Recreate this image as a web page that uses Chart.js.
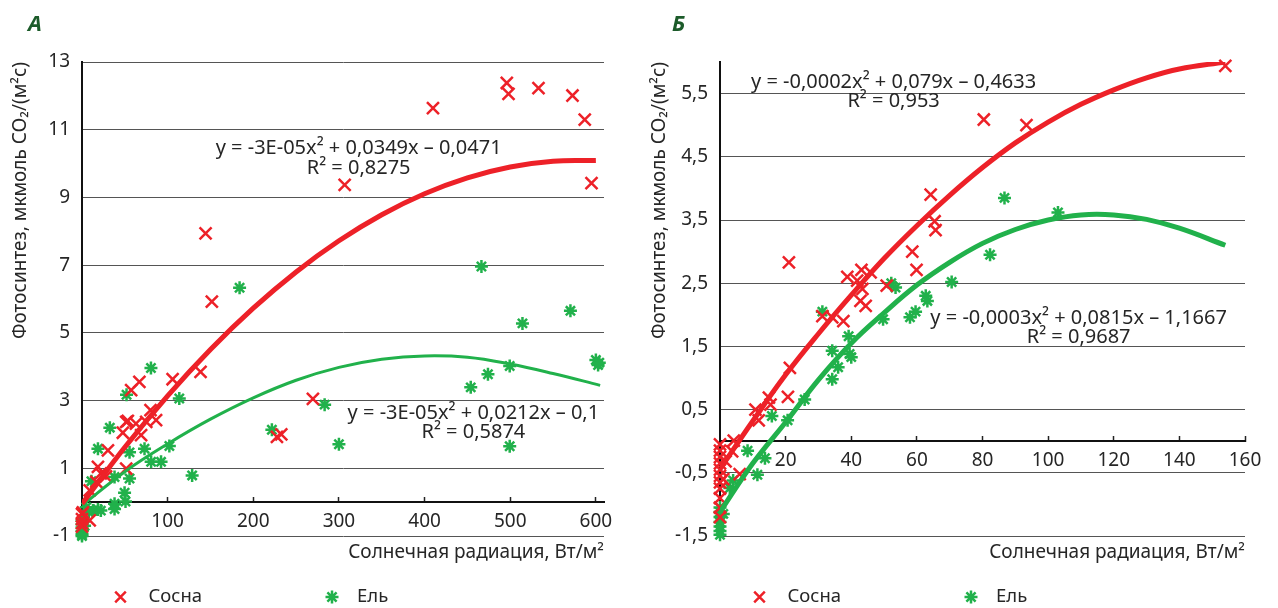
<!DOCTYPE html>
<html><head><meta charset="utf-8">
<script src="https://cdn.jsdelivr.net/npm/chart.js@4.4.1/dist/chart.umd.min.js"></script>
<style>
html,body{margin:0;padding:0;background:#fff;width:1278px;height:608px;overflow:hidden}
canvas{position:absolute;top:0}
#ca{left:0}
#cb{left:639px}
</style></head><body>
<canvas id="ca" width="639" height="608"></canvas>
<canvas id="cb" width="639" height="608"></canvas>
<script>
// ---------- data: panel A ----------
const A_xTicks = [100, 200, 300, 400, 500, 600];
const A_yTicks = [-1, 1, 3, 5, 7, 9, 11, 13];
const A_pineX = [0, 0, 0, 0, 1, 9, 9, 16.7, 18.6, 22, 28, 30.3, 47.7, 51.6, 51.6, 53.5, 57.4, 63, 67, 69, 75, 80, 86.5, 105.8, 138.4, 144.3, 151.6, 227.6, 232.7, 269.6, 306.7, 409.8, 496, 498, 533, 572.7, 587, 594.9];
const A_pineY = [-0.35, -0.5, -0.62, -0.72, -0.3, -0.54, 0.35, 0.6, 1.04, 0.85, 0.76, 1.53, 2.05, 0.99, 2.37, 2.4, 3.31, 2.32, 3.55, 1.98, 2.37, 2.72, 2.42, 3.63, 3.85, 7.94, 5.92, 1.93, 2.0, 3.05, 9.37, 11.64, 12.38, 12.06, 12.23, 12.01, 11.3, 9.42];
const A_spruceX = [0, 0, 0, 0, 0, 0, 3, 5, 8, 11, 12.8, 18.6, 18.6, 22, 32.5, 38, 38, 38, 49.7, 50.8, 52, 55.5, 55.5, 73, 80.5, 80.7, 92.3, 102, 113.6, 128.6, 184, 221.7, 283.3, 300, 453.9, 466.4, 474, 499.4, 499.4, 514.3, 570.3, 600, 602.6, 604];
const A_spruceY = [-0.55, -0.65, -0.75, -0.85, -0.95, -1.0, -0.7, -0.15, -0.3, 0.62, -0.25, -0.22, 1.58, -0.25, 2.2, 0.74, -0.05, -0.2, 0.28, 0.02, 3.17, 1.47, 0.7, 1.58, 3.96, 1.19, 1.19, 1.66, 3.06, 0.79, 6.33, 2.14, 2.88, 1.71, 3.39, 6.96, 3.78, 4.02, 1.65, 5.28, 5.65, 4.2, 4.05, 4.12];
const A_pineTrendX = [0, 50, 100, 150, 200, 250, 300, 350, 400, 450, 500, 550, 600];
const A_pineTrendY = [-0.05, 1.62, 3.14, 4.51, 5.73, 6.80, 7.72, 8.49, 9.11, 9.58, 9.90, 10.07, 10.09];
const A_spruceTrendX = [0, 50, 100, 150, 200, 250, 300, 350, 400, 450, 500, 550, 605];
const A_spruceTrendY = [-0.1, 0.9, 1.72, 2.45, 3.08, 3.6, 3.98, 4.22, 4.32, 4.28, 4.08, 3.8, 3.45];
const A_pineEq = ['y = -3E-05x² + 0,0349x – 0,0471', 'R² = 0,8275'];
const A_spruceEq = ['y = -3E-05x² + 0,0212x – 0,1', 'R² = 0,5874'];

// ---------- data: panel B ----------
const B_xTicks = [20, 40, 60, 80, 100, 120, 140, 160];
const B_yTicks = [-1.5, -0.5, 0.5, 1.5, 2.5, 3.5, 4.5, 5.5];
const B_pineX = [0, 0, 0, 0, 0, 0, 0, 0, 0, 0, 0, 1, 1.7, 3.7, 4.2, 6, 10.8, 11.8, 14.9, 15.4, 20.7, 21.3, 21, 31.2, 34.2, 37.6, 38.8, 41.8, 42.8, 43.1, 43.4, 44.4, 45.9, 50.8, 58.6, 59.9, 64.2, 65.4, 65.7, 80.4, 93.4, 154];
const B_pineY = [-0.05, -0.15, -0.25, -0.35, -0.45, -0.55, -0.65, -0.75, -0.9, -1.05, -1.2, -0.6, -0.32, -0.16, 0.01, -0.52, 0.5, 0.33, 0.69, 0.58, 0.7, 1.16, 2.83, 1.98, 1.96, 1.9, 2.6, 2.54, 2.22, 2.71, 2.41, 2.14, 2.67, 2.46, 3.0, 2.71, 3.9, 3.48, 3.34, 5.09, 5.0, 5.94];
const B_spruceX = [0, 0, 0, 0, 0, 0, 0, 1, 3, 4, 8.4, 11.4, 13.7, 15.8, 20.6, 25.8, 31.2, 34.2, 34.2, 36, 39.2, 39.5, 40, 49.7, 52.2, 53.5, 57.9, 59.6, 62.7, 63.2, 70.6, 82.3, 86.7, 103];
const B_spruceY = [-1.05, -1.12, -1.2, -1.28, -1.35, -1.42, -1.48, -1.15, -0.74, -0.62, -0.15, -0.53, -0.27, 0.4, 0.33, 0.66, 2.05, 1.43, 0.98, 1.17, 1.66, 1.38, 1.33, 1.93, 2.5, 2.43, 1.96, 2.05, 2.3, 2.22, 2.52, 2.95, 3.85, 3.62];
const B_pineTrendX = [0, 10, 20, 30, 40, 50, 60, 70, 80, 90, 100, 110, 120, 130, 140, 154];
const B_pineTrendY = [-0.44, 0.32, 1.05, 1.7, 2.31, 2.89, 3.41, 3.89, 4.33, 4.72, 5.05, 5.33, 5.56, 5.75, 5.89, 6.0];
const B_spruceTrendX = [0, 10, 20, 30, 40, 50, 60, 70, 80, 90, 100, 110, 120, 130, 140, 154];
const B_spruceTrendY = [-1.12, -0.35, 0.3, 0.97, 1.55, 2.03, 2.47, 2.83, 3.13, 3.35, 3.5, 3.58, 3.58, 3.51, 3.37, 3.1];
const B_pineEq = ['y = -0,0002x² + 0,079x – 0,4633', 'R² = 0,953'];
const B_spruceEq = ['y = -0,0003x² + 0,0815x – 1,1667', 'R² = 0,9687'];

// ---------- shared text ----------
const seriesNames = ['Сосна', 'Ель'];
const xTitle = 'Солнечная радиация, Вт/м²';
const yTitle = 'Фотосинтез, мкмоль CO₂/(м²с)';

const RED = '#ed2128';
const GREEN = '#21b14b';
const TXT = '#262626';
const FONT = "'Noto Sans', 'Open Sans', sans-serif";

Chart.defaults.font.family = FONT;
Chart.defaults.color = TXT;
Chart.defaults.animation = false;

const fmt = v => String(v).replace('.', ',');
const toXY = (xs, ys) => xs.map((x, i) => ({x: x, y: ys[i]}));

function drawMarker(ctx, style, x, y, r, color, w) {
  ctx.save();
  ctx.strokeStyle = color; ctx.lineWidth = w; ctx.lineCap = 'butt';
  const d = r * Math.SQRT1_2;
  ctx.beginPath();
  ctx.moveTo(x - d, y - d); ctx.lineTo(x + d, y + d);
  ctx.moveTo(x + d, y - d); ctx.lineTo(x - d, y + d);
  if (style === 'star') {
    ctx.moveTo(x, y - r); ctx.lineTo(x, y + r);
    ctx.moveTo(x - r, y); ctx.lineTo(x + r, y);
  }
  ctx.stroke();
  ctx.restore();
}

const textPlugin = {
  id: 'panelTexts',
  afterDraw(chart, args, opts) {
    const ctx = chart.ctx;
    const xs = chart.scales.x, ys = chart.scales.y;
    ctx.save();
    ctx.fillStyle = TXT;
    ctx.font = '20px ' + FONT;
    ctx.textAlign = 'center';
    ctx.textBaseline = 'middle';
    opts.eqs.forEach(e => {
      const cx = xs.getPixelForValue(e.x);
      const cy = ys.getPixelForValue(e.y);
      e.lines.forEach((t, i) => ctx.fillText(t, cx, cy + i * 19.5));
    });
    // panel letter
    ctx.font = 'italic bold 22px ' + FONT;
    ctx.fillStyle = '#1c5b2a';
    ctx.textAlign = 'left';
    ctx.fillText(opts.letter, opts.letterX, 25);
    // legend
    ctx.font = '18.5px ' + FONT;
    ctx.fillStyle = TXT;
    const ly = 597;
    drawMarker(ctx, 'crossRot', 120.5, ly, 7.5, RED, 2.5);
    ctx.fillText(seriesNames[0], 148.5, ly);
    drawMarker(ctx, 'star', 332, ly, 6.5, GREEN, 2.5);
    ctx.fillText(seriesNames[1], 357, ly);
    ctx.restore();
  }
};

function makeChart(id, p) {
  return new Chart(document.getElementById(id), {
    type: 'scatter',
    data: {
      datasets: [
        {label: seriesNames[0] + ' тренд', type: 'line', data: toXY(p.pineTrendX, p.pineTrendY),
         borderColor: RED, borderWidth: p.pineLineW, pointRadius: 0, tension: 0.4, fill: false, order: 0},
        {label: seriesNames[1] + ' тренд', type: 'line', data: toXY(p.spruceTrendX, p.spruceTrendY),
         borderColor: GREEN, borderWidth: p.spruceLineW, pointRadius: 0, tension: 0.4, fill: false, order: 0},
        {label: seriesNames[0], data: toXY(p.pineX, p.pineY), pointStyle: 'crossRot', pointRadius: 8.5,
         pointBorderWidth: 2.5, borderColor: RED, backgroundColor: RED, clip: false, order: 1},
        {label: seriesNames[1], data: toXY(p.spruceX, p.spruceY), pointStyle: 'star', pointRadius: 6.5,
         pointBorderWidth: 2.5, borderColor: GREEN, backgroundColor: GREEN, clip: false, order: 1}
      ]
    },
    options: {
      responsive: false,
      animation: false,
      events: [],
      layout: {padding: {left: 0, right: p.padRight, top: 62, bottom: 43.7}},
      plugins: {
        legend: {display: false},
        tooltip: {enabled: false},
        panelTexts: {eqs: p.eqs, letter: p.letter, letterX: p.letterX}
      },
      scales: {
        x: {
          type: 'linear', position: 'bottom', min: p.xMin, max: p.xMax,
          ticks: {display: false},
          grid: {display: false, drawTicks: false},
          border: {display: false},
          title: {display: true, text: xTitle, align: 'end', color: TXT, font: {size: 19}, padding: {top: 5.5, bottom: 0}}
        },
        x2: {
          type: 'linear', axis: 'x', position: {y: 0}, min: p.xMin, max: p.xMax,
          afterBuildTicks: s => { s.ticks = p.xTicks.map(v => ({value: v})); },
          ticks: {font: {size: 19}, color: TXT, padding: 14, maxRotation: 0, autoSkip: false, callback: v => fmt(v)},
          grid: {display: true, drawOnChartArea: false, drawTicks: true, tickLength: -6, tickColor: '#222', tickWidth: 1.5},
          border: {display: true, color: '#111', width: 2}
        },
        y: {
          type: 'linear', position: 'left', min: p.yMin, max: p.yMax,
          afterBuildTicks: s => { s.ticks = p.yTicks.map(v => ({value: v})); },
          afterFit: s => { s.width = p.yWidth; },
          ticks: {font: {size: 19}, color: TXT, padding: 12, autoSkip: false, callback: v => fmt(v)},
          grid: {color: '#555', lineWidth: 1, drawTicks: false},
          border: {color: '#111', width: 2},
          title: {display: true, text: yTitle, align: 'end', color: TXT, font: {size: 19}, padding: {top: 9, bottom: 0}}
        }
      }
    },
    plugins: [textPlugin]
  });
}

makeChart('ca', {
  xMin: 0, xMax: 609.5, yMin: -1, yMax: 13, xTicks: A_xTicks, yTicks: A_yTicks,
  pineX: A_pineX, pineY: A_pineY, spruceX: A_spruceX, spruceY: A_spruceY,
  pineTrendX: A_pineTrendX, pineTrendY: A_pineTrendY, spruceTrendX: A_spruceTrendX, spruceTrendY: A_spruceTrendY,
  pineLineW: 5, spruceLineW: 3, padRight: 35, yWidth: 82,
  eqs: [{x: 323, y: 10.45, lines: A_pineEq}, {x: 457, y: 2.63, lines: A_spruceEq}],
  letter: 'А', letterX: 28
});

makeChart('cb', {
  xMin: 0, xMax: 160, yMin: -1.5, yMax: 6, xTicks: B_xTicks, yTicks: B_yTicks,
  pineX: B_pineX, pineY: B_pineY, spruceX: B_spruceX, spruceY: B_spruceY,
  pineTrendX: B_pineTrendX, pineTrendY: B_pineTrendY, spruceTrendX: B_spruceTrendX, spruceTrendY: B_spruceTrendY,
  pineLineW: 5, spruceLineW: 5, padRight: 33, yWidth: 81,
  eqs: [{x: 52.9, y: 5.68, lines: B_pineEq}, {x: 109.3, y: 1.95, lines: B_spruceEq}],
  letter: 'Б', letterX: 33
});
</script>
</body></html>
